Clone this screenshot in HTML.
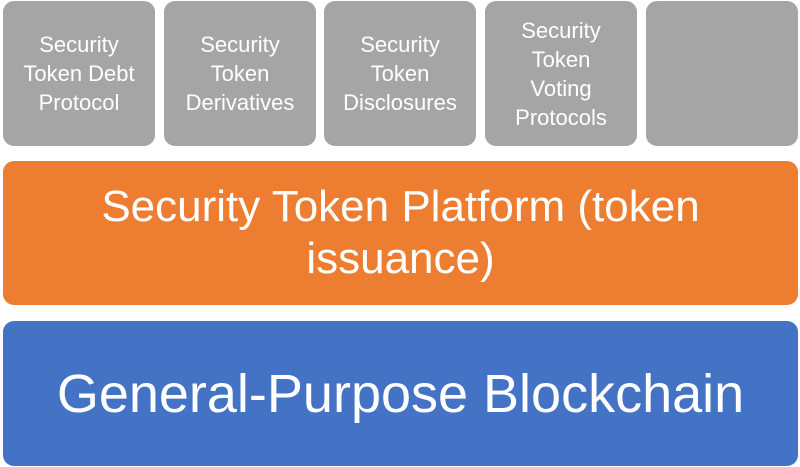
<!DOCTYPE html>
<html><head><style>
body{margin:0;width:800px;height:467px;background:#fff;font-family:"Liberation Sans",sans-serif;position:relative;overflow:hidden}
.b{position:absolute;display:flex;align-items:center;justify-content:center;text-align:center;color:#fff;border-radius:11px;box-sizing:border-box}
.g{background:#a5a5a5;top:1px;height:145px;width:152px;font-size:22px;line-height:29px}
.o{background:#ed7d31;left:3px;top:161px;width:795px;height:144px;font-size:44px;line-height:52px;padding:0 20px}
.bl{background:#4472c4;left:3px;top:321px;width:795px;height:145px;font-size:54px}
</style></head><body>
<div class="b g" style="left:3px">Security<br>Token Debt<br>Protocol</div>
<div class="b g" style="left:164px">Security<br>Token<br>Derivatives</div>
<div class="b g" style="left:324px">Security<br>Token<br>Disclosures</div>
<div class="b g" style="left:485px">Security<br>Token<br>Voting<br>Protocols</div>
<div class="b g" style="left:646px"></div>
<div class="b o">Security Token Platform (token<br>issuance)</div>
<div class="b bl">General-Purpose Blockchain</div>
</body></html>
